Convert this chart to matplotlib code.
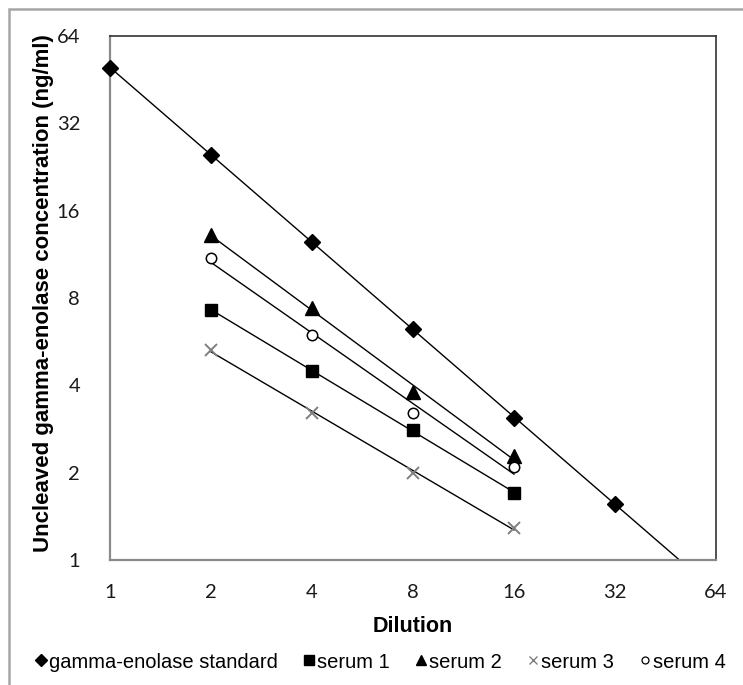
import numpy as np
import matplotlib
matplotlib.use("Agg")
import matplotlib.pyplot as plt
from matplotlib.patches import Rectangle
import copy

# ---- data ----
dilution = [1, 2, 4, 8, 16, 32]
standard = [49.8, 24.9, 12.5, 6.26, 3.09, 1.56]
serum_dil = [2, 4, 8, 16]
serum1 = [7.27, 4.49, 2.81, 1.70]
serum2 = [13.2, 7.39, 3.80, 2.28]
serum3 = [5.3, 3.21, 2.0, 1.29]
serum4 = [11.0, 5.96, 3.21, 2.09]
ticks = [1, 2, 4, 8, 16, 32, 64]
tick_labels = ["1", "2", "4", "8", "16", "32", "64"]

W, H = 743, 685
fig = plt.figure(figsize=(W / 100, H / 100), dpi=100)
ax = fig.add_axes([110 / W, 1 - 560 / H, (716 - 110) / W, (560 - 36) / H])

def fit_line(x, y, x0, x1):
    k, b = np.polyfit(np.log2(x), np.log2(y), 1)
    xs = np.array([x0, x1], dtype=float)
    return xs, 2 ** (k * np.log2(xs) + b)

lw = 1.0
xs, ys = fit_line(dilution, standard, 1, 64)
ax.plot(xs, ys, color="black", lw=lw, zorder=2)
h0, = ax.plot(dilution, standard, ls="none", marker="D", ms=8.5, color="black",
              label="gamma-enolase standard", zorder=3, clip_on=False)

series = [
    (serum1, "s", dict(ms=8.5, mfc="black", mec="black"), "serum 1"),
    (serum2, "^", dict(ms=9.5, mfc="black", mec="black"), "serum 2"),
    (serum3, "x", dict(ms=8, mec="#7f7f7f", mew=1.4), "serum 3"),
    (serum4, "o", dict(ms=7.5, mfc="white", mec="black", mew=1.1), "serum 4"),
]
handles = [h0]
for vals, mk, kw, lab in series:
    xs, ys = fit_line(serum_dil, vals, 2, 16)
    ax.plot(xs, ys, color="black", lw=lw, zorder=2)
    h, = ax.plot(serum_dil, vals, ls="none", marker=mk, label=lab, zorder=3, **kw)
    handles.append(h)

ax.set_xscale("log", base=2)
ax.set_yscale("log", base=2)
ax.set_xlim(1, 64)
ax.set_ylim(1, 64)
ax.set_xticks(ticks)
ax.set_xticklabels(tick_labels)
ax.set_yticks(ticks)
ax.set_yticklabels(tick_labels)
ax.minorticks_off()
ax.tick_params(axis="both", length=0, labelsize=14.5)
ax.tick_params(axis="y", pad=21.5)
ax.tick_params(axis="x", pad=17)
for lab in ax.get_xticklabels() + ax.get_yticklabels():
    lab.set_fontfamily("Lato")
    lab.set_color("#1a1a1a")

for s in ["left", "bottom"]:
    ax.spines[s].set_color("#8a8a8a")
    ax.spines[s].set_linewidth(1.6)
for s in ["top", "right"]:
    ax.spines[s].set_color("#333333")
    ax.spines[s].set_linewidth(1.2)

ax.set_xlabel("Dilution", fontsize=15.5, fontweight="bold", family="Liberation Sans")
ax.set_ylabel("Uncleaved gamma-enolase concentration (ng/ml)", fontsize=16,
              fontweight="bold", family="Liberation Sans")
ax.xaxis.set_label_coords(0.5, -(626 - 560) / 524, transform=ax.transAxes)
ax.yaxis.set_label_coords(-(110 - 44) / 606, (560 - 293) / 524)
ax.xaxis.label.set_va("center")
ax.yaxis.label.set_va("center")

leg_handles = []
sizes = [6, 7, 7.5, 6, 5]
for h, sz in zip(handles, sizes):
    hh = copy.copy(h)
    hh.set_markersize(sz)
    if h.get_marker() == "x":
        hh.set_markeredgewidth(1.0)
    if h.get_marker() == "o":
        hh.set_markeredgewidth(0.9)
    leg_handles.append(hh)
leg = fig.legend(handles=leg_handles, labels=[h.get_label() for h in handles],
                 ncol=5, frameon=False, loc="center left",
                 bbox_to_anchor=(36 / W, 1 - 662 / H),
                 prop={"family": "Liberation Sans", "size": 14.5},
                 handlelength=0.45, handletextpad=0.2, columnspacing=1.3,
                 borderpad=0, borderaxespad=0)

fig.patches.append(Rectangle((9 / W, -0.2), 1.2, 1 - 9 / H + 0.2,
                             transform=fig.transFigure, fill=False,
                             edgecolor="#a6a6a6", lw=1.8, zorder=0))

fig.savefig("out.png", dpi=100)
